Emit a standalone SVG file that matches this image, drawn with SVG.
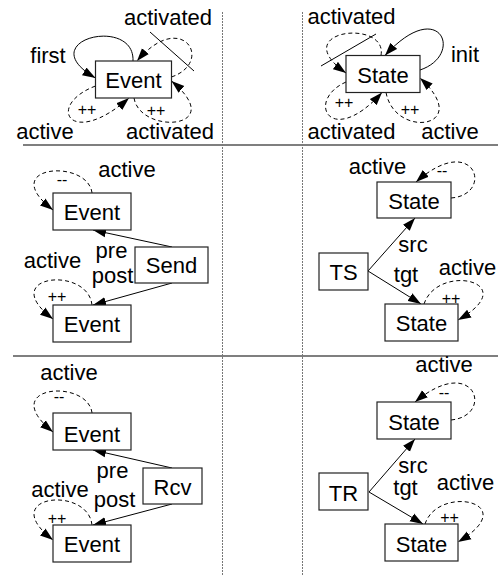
<svg xmlns="http://www.w3.org/2000/svg" width="498" height="576" viewBox="0 0 498 576">
  <defs>
    <marker id="arrow" markerUnits="userSpaceOnUse" markerWidth="13" markerHeight="10" refX="13" refY="5" orient="auto">
      <path d="M0,0.5 L13,5 L0,9.5 z" fill="#000"/>
    </marker>
    <style>
      .box { fill:#fff; stroke:#222; stroke-width:1.2; }
      .t { font-family:"Liberation Sans", Arial, sans-serif; font-size:22px; fill:#000; text-anchor:middle; }
      .s { font-size:16px; }
      .edge { fill:none; stroke:#000; stroke-width:1; marker-end:url(#arrow); }
      .dash { stroke-dasharray:4 3; }
      .slash { fill:none; stroke:#000; stroke-width:1; }
      .sep { stroke:#555; stroke-width:1.5; }
      .col { stroke:#777; stroke-width:1; stroke-dasharray:2 1; }
    </style>
  </defs>

  <rect width="498" height="576" fill="#fff"/>

  <!-- panel dividers -->
  <g id="frame">
    <line class="sep" x1="23" y1="145" x2="498" y2="145"/>
    <line class="sep" x1="13" y1="356" x2="498" y2="356"/>
    <line class="col" x1="222.5" y1="12" x2="222.5" y2="576"/>
    <line class="col" x1="302.5" y1="12" x2="302.5" y2="576"/>
  </g>

  <!-- connectors and their labels -->
  <g id="connectors">
    <!-- row 1, Event -->
    <path class="edge" d="M133,61 C135,15 30,40 95.5,78"/>
    <path class="edge dash" d="M171.5,77 C215,62 182,8 137,61"/>
    <path class="edge dash" d="M95.5,86 C45,105 70,150 129,98"/>
    <path class="edge dash" d="M134,98 C140,135 230,130 171.5,81"/>
    <line class="slash" x1="150" y1="32" x2="194" y2="71"/>
    <text class="t" x="168" y="25">activated</text>
    <text class="t" x="48" y="63">first</text>
    <text class="t" x="45" y="139">active</text>
    <text class="t" x="170" y="139">activated</text>
    <text class="t s" x="87" y="115">++</text>
    <text class="t s" x="156" y="116">++</text>

    <!-- row 1, State -->
    <path class="edge" d="M420,70 C465,55 440,-5 385,55.5"/>
    <path class="edge dash" d="M381,55.5 C388,18 285,30 346,73"/>
    <path class="edge dash" d="M346,82 C305,100 330,150 382,92.5"/>
    <path class="edge dash" d="M386,92.5 C395,140 475,128 420,78"/>
    <line class="slash" x1="376" y1="34" x2="321" y2="66"/>
    <text class="t" x="351.5" y="24">activated</text>
    <text class="t" x="465" y="62">init</text>
    <text class="t" x="351.5" y="139">activated</text>
    <text class="t" x="450" y="139">active</text>
    <text class="t s" x="344" y="107.5">++</text>
    <text class="t s" x="410" y="114.5">++</text>

    <!-- row 2, Send -->
    <path class="edge dash" d="M92,193 C88,158 -5,165 53,210"/>
    <path class="edge dash" d="M92,305 C88,265 -5,275 53,319"/>
    <path class="edge" d="M172,247 L93,230"/>
    <path class="edge" d="M172,283 L93,305"/>
    <text class="t" x="127" y="177">active</text>
    <text class="t s" x="62" y="185">--</text>
    <text class="t" x="52.5" y="268">active</text>
    <text class="t s" x="57" y="302">++</text>
    <text class="t" x="111.5" y="258">pre</text>
    <text class="t" x="112.5" y="283">post</text>

    <!-- row 2, TS -->
    <path class="edge dash" d="M451,198 C495,195 475,130 416,182"/>
    <path class="edge dash" d="M424,304 C438,262 525,282 458,320"/>
    <path class="edge" d="M368,271 L415,218"/>
    <path class="edge" d="M368,271 L421,304"/>
    <text class="t" x="377.5" y="174">active</text>
    <text class="t s" x="442" y="176">--</text>
    <text class="t" x="413" y="252">src</text>
    <text class="t" x="406" y="282">tgt</text>
    <text class="t" x="467.5" y="275">active</text>
    <text class="t s" x="451" y="303.5">++</text>

    <!-- row 3, Rcv -->
    <path class="edge dash" d="M92,413 C88,378 -5,385 53,432"/>
    <path class="edge dash" d="M92,525 C88,485 -5,495 53,540"/>
    <path class="edge" d="M172,468 L93,450"/>
    <path class="edge" d="M172,504 L93,525"/>
    <text class="t" x="69" y="380">active</text>
    <text class="t s" x="59" y="402">--</text>
    <text class="t" x="60" y="497">active</text>
    <text class="t s" x="57" y="523.5">++</text>
    <text class="t" x="112.5" y="478">pre</text>
    <text class="t" x="114.5" y="507">post</text>

    <!-- row 3, TR -->
    <path class="edge dash" d="M451,420 C495,416 475,352 415,402"/>
    <path class="edge dash" d="M425,524 C438,484 525,502 458,542"/>
    <path class="edge" d="M369,492 L415,439"/>
    <path class="edge" d="M369,492 L423,524"/>
    <text class="t" x="444" y="372">active</text>
    <text class="t s" x="444" y="398">--</text>
    <text class="t" x="413" y="473">src</text>
    <text class="t" x="405.5" y="495">tgt</text>
    <text class="t" x="465.5" y="490">active</text>
    <text class="t s" x="449.5" y="523">++</text>
  </g>

  <!-- nodes -->
  <g id="event1"><rect class="box" x="95.5" y="61" width="76" height="37"/><text class="t" x="133.5" y="87.5">Event</text></g>
  <g id="state1"><rect class="box" x="346" y="55.5" width="74" height="37"/><text class="t" x="383" y="83">State</text></g>

  <g id="event2a"><rect class="box" x="53" y="193" width="78" height="37"/><text class="t" x="92" y="220">Event</text></g>
  <g id="send"><rect class="box" x="135" y="247" width="73" height="36"/><text class="t" x="171.5" y="273">Send</text></g>
  <g id="event2b"><rect class="box" x="53" y="305" width="78" height="37"/><text class="t" x="92" y="332">Event</text></g>

  <g id="state2a"><rect class="box" x="377" y="182" width="74" height="36"/><text class="t" x="414" y="209">State</text></g>
  <g id="ts"><rect class="box" x="319" y="253" width="49" height="37"/><text class="t" x="343.5" y="280">TS</text></g>
  <g id="state2b"><rect class="box" x="385" y="304" width="73" height="37"/><text class="t" x="421.5" y="331">State</text></g>

  <g id="event3a"><rect class="box" x="53" y="413" width="78" height="37"/><text class="t" x="92" y="441.5">Event</text></g>
  <g id="rcv"><rect class="box" x="143" y="468" width="59" height="36"/><text class="t" x="172.5" y="495">Rcv</text></g>
  <g id="event3b"><rect class="box" x="53" y="525" width="78" height="37"/><text class="t" x="92" y="552">Event</text></g>

  <g id="state3a"><rect class="box" x="377" y="402" width="74" height="37"/><text class="t" x="414" y="430">State</text></g>
  <g id="tr"><rect class="box" x="319" y="473" width="49" height="37"/><text class="t" x="343.5" y="501">TR</text></g>
  <g id="state3b"><rect class="box" x="385" y="524" width="73" height="37"/><text class="t" x="421.5" y="552">State</text></g>
</svg>
